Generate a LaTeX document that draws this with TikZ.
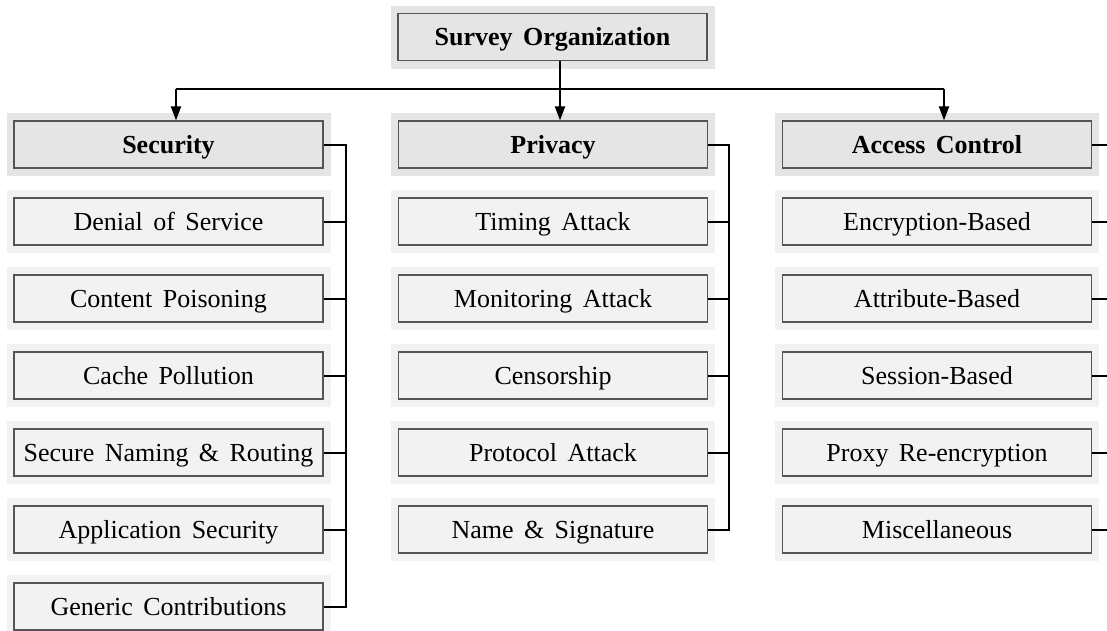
\documentclass[tikz,border=0pt]{standalone}
\usepackage{fontspec}
\setmainfont[WordSpace=1.6]{Liberation Serif}
\usetikzlibrary{arrows.meta}
\definecolor{hdrfill}{HTML}{E5E5E5}
\definecolor{itemfill}{HTML}{F2F2F2}
\definecolor{boxline}{HTML}{555555}
\newcommand\bxnode[5]{% name, x, y, style, text
  \fill[#4bg] (#2-162,#3-31.5) rectangle (#2+162,#3+31.5);
  \node[#4] (#1) at (#2,#3) {#5};
}
\begin{document}
\begin{tikzpicture}[x=1pt,y=-1pt,
  every node/.style={font=\fontsize{26}{30}\selectfont},
  hdrbox/.style={draw=boxline, line width=1.2pt, fill=hdrfill, minimum width=309pt, minimum height=47pt, inner sep=0pt, text height=18pt, text depth=1pt, font=\fontsize{26}{30}\selectfont\bfseries},
  hdrboxbg/.style={fill=hdrfill},
  itembox/.style={draw=boxline, line width=1.2pt, fill=itemfill, minimum width=309pt, minimum height=47pt, inner sep=0pt, text height=18pt, text depth=1pt},
  itemboxbg/.style={fill=itemfill},
  conn/.style={line width=2pt, black},
  arr/.style={conn, -{Triangle[length=14pt,width=10pt]}}
]
\useasboundingbox (0,0) rectangle (1107,630);

% top
\bxnode{surv}{552.5}{37}{hdrbox}{Survey Organization}

% column headers
\bxnode{sec}{168.5}{144.5}{hdrbox}{Security}
\bxnode{priv}{553}{144.5}{hdrbox}{Privacy}
\bxnode{acc}{937}{144.5}{hdrbox}{Access Control}

% security items
\bxnode{dos}{168.5}{221.5}{itembox}{Denial of Service}
\bxnode{cp}{168.5}{298.5}{itembox}{Content Poisoning}
\bxnode{cpol}{168.5}{375.5}{itembox}{Cache Pollution}
\bxnode{snr}{168.5}{452.5}{itembox}{Secure Naming \& Routing}
\bxnode{apps}{168.5}{529.5}{itembox}{Application Security}
\bxnode{gen}{168.5}{606.5}{itembox}{Generic Contributions}

% privacy items
\bxnode{tim}{553}{221.5}{itembox}{Timing Attack}
\bxnode{mon}{553}{298.5}{itembox}{Monitoring Attack}
\bxnode{cens}{553}{375.5}{itembox}{Censorship}
\bxnode{prot}{553}{452.5}{itembox}{Protocol Attack}
\bxnode{nsig}{553}{529.5}{itembox}{Name \& Signature}

% access control items
\bxnode{enc}{937}{221.5}{itembox}{Encryption-Based}
\bxnode{attr}{937}{298.5}{itembox}{Attribute-Based}
\bxnode{sess}{937}{375.5}{itembox}{Session-Based}
\bxnode{pre}{937}{452.5}{itembox}{Proxy Re-encryption}
\bxnode{misc}{937}{529.5}{itembox}{Miscellaneous}

% top connectors
\coordinate (bl) at (176,89);
\coordinate (br) at (944,89);
\draw[conn] (bl) -- (br);
\draw[arr] ([xshift=7.5pt]surv.south) -- ([xshift=7pt]priv.north);
\draw[arr] (bl) -- ([xshift=7.5pt]sec.north);
\draw[arr] (br) -- ([xshift=7pt]acc.north);

% security bus
\coordinate (sb) at (346,0);
\draw[conn] (sec.east) -| (sb |- gen.east) -- (gen.east);
\foreach \n in {dos,cp,cpol,snr,apps} \draw[conn] (\n.east) -- (sb |- \n.east);

% privacy bus
\coordinate (pb) at (729,0);
\draw[conn] (priv.east) -| (pb |- nsig.east) -- (nsig.east);
\foreach \n in {tim,mon,cens,prot} \draw[conn] (\n.east) -- (pb |- \n.east);

% access control stubs
\coordinate (ab) at (1107,0);
\foreach \n in {acc,enc,attr,sess,pre,misc} \draw[conn] (\n.east) -- (ab |- \n.east);
\end{tikzpicture}
\end{document}
